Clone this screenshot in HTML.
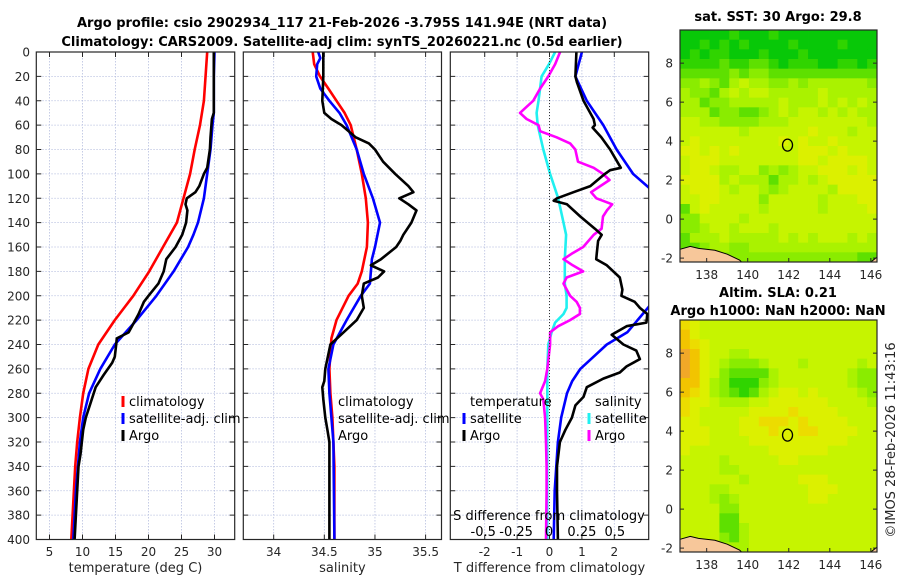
<!DOCTYPE html>
<html><head><meta charset="utf-8">
<style>
html,body{margin:0;padding:0;background:#fff;}
svg{display:block;font-family:"DejaVu Sans","Liberation Sans",sans-serif;}
.tk{font-size:12px;fill:#262626;}
.ttl{font-size:13px;font-weight:bold;fill:#000;}
.lg{font-size:13px;fill:#000;}
</style></head>
<body>
<svg id="fig" width="900" height="580" viewBox="0 0 900 580" xmlns="http://www.w3.org/2000/svg">
<text class="ttl" x="342" y="27" text-anchor="middle">Argo profile: csio 2902934_117 21-Feb-2026 -3.795S 141.94E (NRT data)</text>
<text class="ttl" x="342" y="46" text-anchor="middle">Climatology: CARS2009. Satellite-adj clim: synTS_20260221.nc (0.5d earlier)</text>
<text class="ttl" x="778" y="21" text-anchor="middle">sat. SST: 30 Argo: 29.8</text>
<text class="ttl" x="778" y="297" text-anchor="middle">Altim. SLA: 0.21</text>
<text class="ttl" x="778" y="315" text-anchor="middle">Argo h1000: NaN h2000: NaN</text>
<text class="tk" transform="translate(895,440) rotate(-90)" text-anchor="middle" style="font-size:13px">©IMOS 28-Feb-2026 11:43:16</text>
<g id="layer"></g>
</svg>
<script>
// ---------- data ----------
const depthTicks = [0,20,40,60,80,100,120,140,160,180,200,220,240,260,280,300,320,340,360,380,400];
const tempTicks = [5,10,15,20,25,30];
const salTicks = [34,34.5,35,35.5];
const dTempTicks = [-2,-1,0,1,2];
const dSalTicks = [-0.5,-0.25,0,0.25,0.5];
const dSalTickLabels = ["-0.5","-0.25","0","0.25","0.5"];

const tempClimDepth = [0,40,60,80,100,120,140,160,180,200,220,240,260,280,300,320,340,360,380,400];
const tempClim = [28.9,28.4,27.8,27.0,26.3,25.3,24.3,22.2,20.1,17.7,14.9,12.4,10.9,10.1,9.6,9.2,8.9,8.7,8.5,8.3];
const tempSatDepth = [0,20,50,60,80,100,120,140,150,160,180,200,220,240,260,280,300,320,340,360,380,400];
const tempSat = [30.0,29.9,29.9,29.7,29.4,28.9,28.4,27.5,26.8,26.0,23.8,21.2,18.2,14.9,12.7,11.0,10.1,9.6,9.3,9.0,8.8,8.6];
const tempArgoDepth = [0,50,55,70,80,95,100,110,115,120,125,130,140,150,160,170,180,190,200,205,215,220,230,235,240,250,255,265,275,280,290,300,310,330,340,360,380,400];
const tempArgo = [29.9,29.9,29.6,29.4,29.3,28.9,28.4,27.7,27.1,25.8,25.6,25.9,25.7,25.1,24.1,22.7,22.3,21.5,20.0,19.3,18.5,18.0,17.0,15.2,15.1,14.9,14.5,13.2,12.0,11.7,11.1,10.5,10.1,9.7,9.4,9.2,9.0,8.8];

const salClimDepth = [0,10,20,30,40,50,60,70,80,100,120,140,160,180,190,200,220,235,260,280,300,320,340,400];
const salClim = [34.385,34.40,34.457,34.54,34.62,34.70,34.76,34.79,34.82,34.87,34.91,34.93,34.92,34.87,34.83,34.74,34.62,34.57,34.55,34.56,34.58,34.59,34.60,34.60];
const salSatDepth = [0,5,10,20,30,40,50,60,80,100,120,140,160,170,180,190,200,220,240,260,280,300,320,400];
const salSat = [34.44,34.46,34.43,34.42,34.46,34.55,34.65,34.72,34.82,34.89,34.98,35.05,35.00,34.97,34.96,34.95,34.86,34.72,34.59,34.54,34.55,34.57,34.59,34.60];
const salArgoDepth = [0,20,40,50,55,60,70,75,80,90,100,110,115,120,125,130,140,150,155,160,170,175,180,185,190,200,210,220,230,240,260,270,275,285,300,310,320,340,400];
const salArgo = [34.49,34.49,34.48,34.50,34.57,34.67,34.81,34.94,35.00,35.08,35.20,35.33,35.38,35.24,35.33,35.41,35.36,35.28,35.25,35.21,35.06,34.96,35.09,35.03,34.89,34.87,34.89,34.82,34.69,34.56,34.51,34.50,34.48,34.49,34.51,34.53,34.55,34.55,34.55];

const dTempSatDepth = [0,20,40,60,80,100,112,140,160,180,200,208,230,240,250,260,270,280,300,320,360,400];
const dTempSat = [1.0,0.8,1.15,1.66,2.07,2.58,3.1,3.4,3.8,3.7,3.3,3.1,2.4,1.77,1.36,0.95,0.7,0.54,0.36,0.26,0.16,0.13];
const dTempArgoDepth = [0,20,25,40,55,60,62,70,80,95,97,100,110,115,120,122,125,135,145,150,155,165,170,175,185,195,200,205,210,215,222,225,232,240,245,252,258,263,268,275,283,290,300,310,320,340,360,400];
const dTempArgo = [0.83,0.8,0.85,1.05,1.36,1.4,1.33,1.6,1.87,2.2,1.87,1.71,1.26,0.74,0.23,0.13,0.54,0.95,1.4,1.61,1.5,1.46,1.44,1.77,2.17,2.25,2.22,2.63,2.79,3.02,2.99,2.38,1.92,2.28,2.68,2.79,2.38,2.17,1.66,1.15,1.05,0.8,0.69,0.49,0.32,0.23,0.23,0.26];
const dSalSatDepth = [0,10,20,40,50,60,80,100,120,140,150,170,190,200,210,215,222,230,240,260,300,400];
const dSalSat = [0.046,0,-0.056,-0.08,-0.094,-0.086,-0.043,0.008,0.07,0.11,0.13,0.12,0.12,0.134,0.134,0.11,0.046,0.02,-0.005,-0.013,-0.013,-0.013];
const dSalArgoDepth = [0,10,20,30,40,45,50,55,60,65,70,75,80,90,95,100,105,115,120,125,130,135,145,150,160,165,170,175,180,185,190,200,205,210,215,220,225,230,240,260,270,280,285,300,320,340,360,400];
const dSalArgo = [0.084,0.046,-0.005,-0.068,-0.12,-0.17,-0.22,-0.17,-0.08,-0.068,0.058,0.16,0.2,0.22,0.34,0.41,0.46,0.32,0.36,0.48,0.44,0.41,0.4,0.34,0.26,0.18,0.11,0.18,0.26,0.134,0.11,0.16,0.21,0.235,0.235,0.16,0.07,0.008,0.008,-0.013,-0.03,-0.068,-0.043,-0.03,-0.023,-0.018,-0.018,-0.023];

const mapLonTicks = [138,140,142,144,146];
const mapLatTicks = [8,6,4,2,0,-2];
const argoLon = 141.94;
const argoLat = 3.795;
const sstGrid = [
"00000100010000000000","00101010000100001000","01011000100010000000","11112112210111001101",
"22222323322222222222","33432454433434444443","43324545544444544444","44233444445444545454",
"44423322345455454544","55443333444555555554","55555545555556555455","56555555556565565555",
"66565655555566656555","56665555555566566665","56654455343455666565","66664544424454566666",
"56665455434555546666","55665555355555455566","25655555455555455556","33555545555555555555",
"33455455545555555555","24445444445454555454","22344334444444444444","11233333333333333322"];
const slaGrid = [
"76555555555555555555","86555555555555555555","87655555555555555555","98655445555555555555",
"98654333455545555545","98653222245555555433","88643111345555555433","87643212456656555543",
"76654445566666655554","76555556666766665555","66555566777676666555","66655566676677666655",
"66655556666666666555","65555555566666655555","55554555556655555555","55554455555555555555",
"55555545555566655555","55544555555556665555","55543455555556655555","55553355555555555555",
"55552255555555555555","55552245555555555555","55553245555555555555","55554445555555555555"];
const colorLevels = ["#08c808","#30d400","#5ee000","#8aec00","#aaf200","#c6f400","#dcf000","#ecdc00","#f2c400","#f2a828"];

// ---------- drawing ----------
const NS="http://www.w3.org/2000/svg";
const layer=document.getElementById('layer');
function mk(tag,attrs,parent){const e=document.createElementNS(NS,tag);for(const k in attrs)e.setAttribute(k,attrs[k]);(parent||layer).appendChild(e);return e;}
const top0=52, bot0=539.5;
const yD=d=>top0+d*(bot0-top0)/400;

const panels=[
 {name:'temperature-panel',x0:36.3,x1:234.7,vmin:3,vmax:33.06,ticks:tempTicks,labels:tempTicks.map(String),xlabel:'temperature (deg C)'},
 {name:'salinity-panel',x0:243.3,x1:441.5,vmin:33.7,vmax:35.657,ticks:salTicks,labels:salTicks.map(String),xlabel:'salinity'},
 {name:'difference-panel',x0:450.3,x1:648.7,vmin:-3.062,vmax:3.062,ticks:dTempTicks,labels:dTempTicks.map(String),xlabel:'T difference from climatology'}
];
panels.forEach((p,i)=>{
  p.x=v=>p.x0+(v-p.vmin)*(p.x1-p.x0)/(p.vmax-p.vmin);
  const g=mk('g',{});
  
  
  const cp=mk('clipPath',{id:'clip'+i},g); mk('rect',{x:p.x0,y:top0,width:p.x1-p.x0,height:bot0-top0},cp);
  depthTicks.forEach(d=>{
    const l=mk('line',{x1:p.x0,x2:p.x1,y1:yD(d),y2:yD(d),stroke:'#b8c0e0','stroke-width':0.8,'stroke-dasharray':'1.5,1.5'},g);
    
    
    mk('line',{x1:p.x0,x2:p.x0+5,y1:yD(d),y2:yD(d),stroke:'#262626','stroke-width':1},g);
    mk('line',{x1:p.x1-5,x2:p.x1,y1:yD(d),y2:yD(d),stroke:'#262626','stroke-width':1},g);
  });
  p.ticks.forEach((t,j)=>{
    const l=mk('line',{x1:p.x(t),x2:p.x(t),y1:top0,y2:bot0,stroke:'#b8c0e0','stroke-width':0.8,'stroke-dasharray':'1.5,1.5'},g);
    
    
    mk('line',{x1:p.x(t),x2:p.x(t),y1:bot0-5,y2:bot0,stroke:'#262626','stroke-width':1},g);
    mk('line',{x1:p.x(t),x2:p.x(t),y1:top0,y2:top0+5,stroke:'#262626','stroke-width':1},g);
    const tx=mk('text',{class:'tk',x:p.x(t),y:556,'text-anchor':'middle'},g);
    tx.textContent=p.labels[j];
    
    
  });
  const xl=mk('text',{class:'tk',x:(p.x0+p.x1)/2,y:572,'text-anchor':'middle',style:'font-size:13px'},g);
  xl.textContent=p.xlabel;
  
  
  p.g=g;
});
// depth labels
depthTicks.forEach(d=>{
  const t=mk('text',{class:'tk',x:30,y:yD(d)+4.5,'text-anchor':'end'});
  t.textContent=String(d);
  
  
});
// zero line in diff panel
const p3=panels[2];
const zl=mk('line',{x1:p3.x(0),x2:p3.x(0),y1:top0,y2:bot0,stroke:'#333','stroke-width':1,'stroke-dasharray':'1,2'});



function series(pi,xfn,depths,vals,color,name){
  const p=panels[pi];
  const pts=depths.map((d,k)=>xfn(vals[k]).toFixed(1)+','+yD(d).toFixed(1)).join(' ');
  const l=mk('polyline',{points:pts,fill:'none',stroke:color,'stroke-width':2.6,'stroke-linejoin':'round','clip-path':'url(#clip'+pi+')'},p.g);
  
  
}
const xdS=s=>549+s*131.6;
series(0,panels[0].x,tempClimDepth,tempClim,'#ff0000','temp-climatology-line');
series(0,panels[0].x,tempSatDepth,tempSat,'#0000ff','temp-satellite-line');
series(0,panels[0].x,tempArgoDepth,tempArgo,'#000','temp-argo-line');
series(1,panels[1].x,salClimDepth,salClim,'#ff0000','sal-climatology-line');
series(1,panels[1].x,salSatDepth,salSat,'#0000ff','sal-satellite-line');
series(1,panels[1].x,salArgoDepth,salArgo,'#000','sal-argo-line');
series(2,xdS,dSalSatDepth,dSalSat,'#20f0f0','sal-diff-satellite-line');
series(2,xdS,dSalArgoDepth,dSalArgo,'#ff00ff','sal-diff-argo-line');
series(2,panels[2].x,dTempSatDepth,dTempSat,'#0000ff','temp-diff-satellite-line');
series(2,panels[2].x,dTempArgoDepth,dTempArgo,'#000','temp-diff-argo-line');

// panel frames
panels.forEach(p=>{mk('rect',{x:p.x0,y:top0,width:p.x1-p.x0,height:bot0-top0,fill:'none',stroke:'#262626','stroke-width':1.2},p.g);});

// legends
function legend(x,y,color,label,name){
  const g=mk('g',{});
  
  
  if(color) mk('line',{x1:x-6,x2:x-6,y1:y-10,y2:y+1,stroke:color,'stroke-width':3},g);
  const t=mk('text',{class:'lg',x:x,y:y},g); t.textContent=label;
}
legend(129,406,'#ff0000','climatology','legend-climatology');
legend(129,423,'#0000ff','satellite-adj. clim','legend-satellite-adj');
legend(129,440,'#000','Argo','legend-argo');
legend(338,406,null,'climatology','legend2-climatology');
legend(338,423,null,'satellite-adj. clim','legend2-satellite-adj');
legend(338,440,null,'Argo','legend2-argo');
legend(470,406,null,'temperature','legend-temperature-header');
legend(470,423,'#0000ff','satellite','legend-temp-satellite');
legend(470,440,'#000','Argo','legend-temp-argo');
legend(595,406,null,'salinity','legend-salinity-header');
legend(595,423,'#20f0f0','satellite','legend-sal-satellite');
legend(595,440,'#ff00ff','Argo','legend-sal-argo');
// S axis inside
const st=mk('text',{class:'lg',x:549,y:520,'text-anchor':'middle'});
st.textContent='S difference from climatology';


dSalTicks.forEach((s,j)=>{
  const t=mk('text',{class:'lg',x:xdS(s),y:536,'text-anchor':'middle'});
  t.textContent=dSalTickLabels[j];
  
  
});

// maps
const mapX0=680, mapX1=877, lonMin=136.7, lonMax=146.3, latMax=9.7, latMin=-2.2;
function drawMap(grid,yTop,yBot,name){
  const g=mk('g',{});
  
  
  const lx=lon=>mapX0+(lon-lonMin)*(mapX1-mapX0)/(lonMax-lonMin);
  const ly=lat=>yTop+(latMax-lat)*(yBot-yTop)/(latMax-latMin);
  const rows=grid.length, cols=grid[0].length;
  const cw=(mapX1-mapX0)/cols, ch=(yBot-yTop)/rows;
  grid.forEach((row,r)=>{
    for(let c=0;c<cols;c++){
      const cell=mk('rect',{x:(mapX0+c*cw).toFixed(2),y:(yTop+r*ch).toFixed(2),width:(cw+0.4).toFixed(2),height:(ch+0.4).toFixed(2),fill:colorLevels[+row[c]]},g);
      
      
    }
  });
  // land
  const land=mk('path',{d:`M${lx(136.7)},${ly(-1.55)} L${lx(137.2)},${ly(-1.4)} L${lx(137.6)},${ly(-1.5)} L${lx(138.4)},${ly(-1.6)} L${lx(139.0)},${ly(-1.8)} L${lx(139.6)},${ly(-2.1)} L${lx(139.7)},${ly(-2.2)} L${lx(136.7)},${ly(-2.2)} Z`,fill:'#f7c79a',stroke:'#000','stroke-width':1},g);
  
  
  const land2=mk('path',{d:`M${lx(146.0)},${ly(-2.2)} L${lx(146.3)},${ly(-1.95)} L${lx(146.3)},${ly(-2.2)} Z`,fill:'#f7c79a',stroke:'#000','stroke-width':1},g);
  
  
  const circ=mk('ellipse',{cx:lx(argoLon),cy:ly(argoLat),rx:5,ry:6,fill:'none',stroke:'#000','stroke-width':1.3},g);
  
  
  mk('rect',{x:mapX0,y:yTop,width:mapX1-mapX0,height:yBot-yTop,fill:'none',stroke:'#262626','stroke-width':1.2},g);
  mapLonTicks.forEach(lon=>{
    mk('line',{x1:lx(lon),x2:lx(lon),y1:yBot-4,y2:yBot,stroke:'#262626'},g);
    const t=mk('text',{class:'tk',x:lx(lon),y:yBot+17,'text-anchor':'middle'},g);
    t.textContent=String(lon);
    
    
  });
  mapLatTicks.forEach(lat=>{
    mk('line',{x1:mapX0,x2:mapX0+4,y1:ly(lat),y2:ly(lat),stroke:'#262626'},g);
    mk('line',{x1:mapX1-4,x2:mapX1,y1:ly(lat),y2:ly(lat),stroke:'#262626'},g);
    const t=mk('text',{class:'tk',x:673,y:ly(lat)+4.5,'text-anchor':'end'},g);
    t.textContent=String(lat);
    
    
  });
}
drawMap(sstGrid,30,262,'sst-map');
drawMap(slaGrid,320,552,'sla-map');
</script>
</body></html>
